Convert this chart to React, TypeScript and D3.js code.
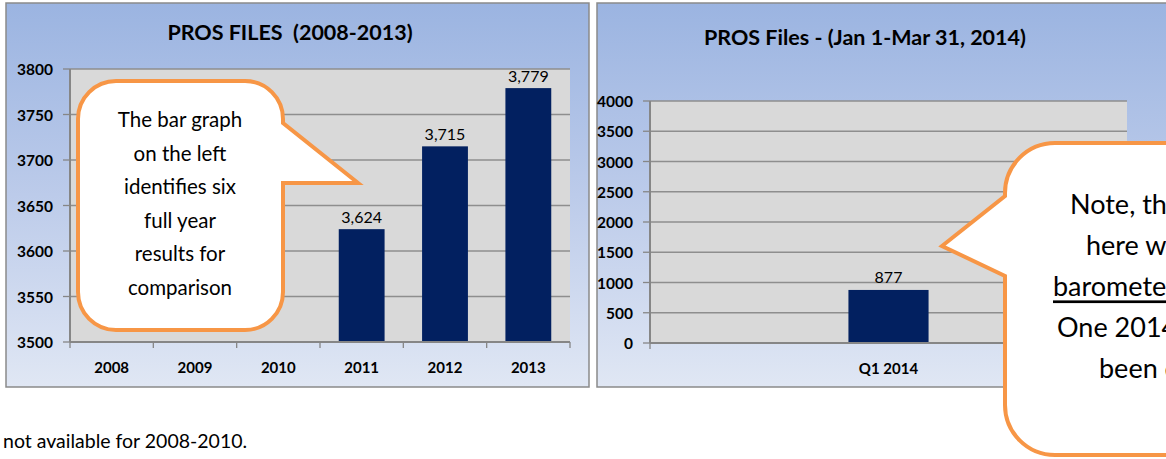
import React from "react";
import * as d3 from "d3";

// ---- data ----
const yearCategories = ["2008", "2009", "2010", "2011", "2012", "2013"];
const yearValues: (number | null)[] = [null, null, null, 3624, 3715, 3779];
const yearTicks = [3500, 3550, 3600, 3650, 3700, 3750, 3800];

const quarterCategories = ["Q1 2014"];
const quarterValues = [877];
const quarterTicks = [0, 500, 1000, 1500, 2000, 2500, 3000, 3500, 4000];

const leftTitle = "PROS FILES  (2008-2013)";
const rightTitle = "PROS Files - (Jan 1-Mar 31, 2014)";
const leftNote = ["The bar graph", "on the left", "identifies six", "full year", "results for", "comparison"];
const rightNote = [
  { pre: "Note, the numbers shown", u: "", post: "" },
  { pre: "here were used as a", u: "", post: "" },
  { pre: "", u: "barometer", post: " only. Quarter" },
  { pre: "One 2014 has not yet", u: "", post: "" },
  { pre: "been completed.", u: "", post: "" },
];
const footnote = "not available for 2008-2010.";

const FONT = "Lato, 'Open Sans', sans-serif";
const BAR = "#022060";
const GRID = "#8e8e8e";
const AXIS = "#868686";
const PLOT = "#d9d9d9";
const ORANGE = "#f79646";

function BarPanel(props: {
  id: string;
  box: { x: number; y: number; w: number; h: number };
  title: string;
  titleX: number;
  titleY: number;
  plot: { x0: number; x1: number; y0: number; y1: number };
  cats: string[];
  vals: (number | null)[];
  ticks: number[];
  domain: [number, number];
  padInner: number;
  catLabelY: number;
}) {
  const { id, box, title, titleX, titleY, plot, cats, vals, ticks, domain, padInner, catLabelY } = props;
  const x = d3.scaleBand<string>().domain(cats).range([plot.x0, plot.x1]).paddingInner(padInner).paddingOuter(padInner / 2);
  const y = d3.scaleLinear().domain(domain).range([plot.y1, plot.y0]);
  const fmt = d3.format(",");
  const step = x.step();
  const boundaries = d3.range(cats.length + 1).map((i) => plot.x0 + i * step);
  return (
    <g>
      <defs>
        <linearGradient id={id} x1="0" y1="0" x2="0" y2="1">
          <stop offset="0" stopColor="#9bb4e1" />
          <stop offset="0.5" stopColor="#bccbea" />
          <stop offset="1" stopColor="#e0e7f4" />
        </linearGradient>
      </defs>
      <rect x={box.x} y={box.y} width={box.w} height={box.h} fill={`url(#${id})`} stroke="#8a8a8a" strokeWidth={1.5} />
      <text x={titleX} y={titleY} textAnchor="middle" dominantBaseline="central" fontFamily={FONT} fontWeight="bold" fontSize={21.5} style={{ whiteSpace: "pre" }}>
        {title}
      </text>
      <rect x={plot.x0} y={plot.y0} width={plot.x1 - plot.x0} height={plot.y1 - plot.y0} fill={PLOT} />
      {ticks.map((t) => (
        <g key={t}>
          {t !== domain[0] && <line x1={plot.x0} x2={plot.x1} y1={y(t)} y2={y(t)} stroke={GRID} strokeWidth={1.3} />}
          <line x1={plot.x0 - 7} x2={plot.x0} y1={y(t)} y2={y(t)} stroke={AXIS} strokeWidth={1.3} />
          <text x={plot.x0 - 17} y={y(t)} textAnchor="end" dominantBaseline="central" fontFamily={FONT} fontWeight="bold" fontSize={15.5}>
            {t}
          </text>
        </g>
      ))}
      {vals.map((v, i) =>
        v == null ? null : (
          <g key={cats[i]}>
            <rect x={x(cats[i])} y={y(v)} width={x.bandwidth()} height={y(domain[0]) - y(v)} fill={BAR} />
            <text x={(x(cats[i]) as number) + x.bandwidth() / 2} y={y(v) - 13} textAnchor="middle" dominantBaseline="central" fontFamily={FONT} fontSize={16}>
              {fmt(v)}
            </text>
          </g>
        )
      )}
      <line x1={plot.x0} x2={plot.x0} y1={plot.y0} y2={plot.y1} stroke={AXIS} strokeWidth={2} />
      <line x1={plot.x0} x2={plot.x1} y1={plot.y1} y2={plot.y1} stroke={AXIS} strokeWidth={2} />
      {boundaries.map((b, i) => (
        <line key={i} x1={b} x2={b} y1={plot.y1} y2={plot.y1 + 6} stroke={AXIS} strokeWidth={1.3} />
      ))}
      {cats.map((c) => (
        <text key={c} x={(x(c) as number) + x.bandwidth() / 2} y={catLabelY} textAnchor="middle" dominantBaseline="central" fontFamily={FONT} fontWeight="bold" fontSize={15}>
          {c}
        </text>
      ))}
    </g>
  );
}

export default function App() {
  const W = 1166;
  const H = 459;
  // left callout geometry
  const L = { l: 78, t: 81, r: 283, b: 330, rad: 38, pTop: 123, pBot: 183, tipX: 358, tipY: 183 };
  const leftPath = `M ${L.l + L.rad},${L.t} H ${L.r - L.rad} A ${L.rad} ${L.rad} 0 0 1 ${L.r},${L.t + L.rad} V ${L.pTop} L ${L.tipX},${L.tipY} H ${L.r} V ${L.b - L.rad} A ${L.rad} ${L.rad} 0 0 1 ${L.r - L.rad},${L.b} H ${L.l + L.rad} A ${L.rad} ${L.rad} 0 0 1 ${L.l},${L.b - L.rad} V ${L.t + L.rad} A ${L.rad} ${L.rad} 0 0 1 ${L.l + L.rad},${L.t} Z`;
  const R = { l: 1005, t: 143, r: 1260, b: 455, rad: 50, pTop: 196, pBot: 276, tipX: 942, tipY: 246 };
  const rightPath = `M ${R.l + R.rad},${R.t} H ${R.r} V ${R.b} H ${R.l + R.rad} A ${R.rad} ${R.rad} 0 0 1 ${R.l},${R.b - R.rad} V ${R.pBot} L ${R.tipX},${R.tipY} L ${R.l},${R.pTop} V ${R.t + R.rad} A ${R.rad} ${R.rad} 0 0 1 ${R.l + R.rad},${R.t} Z`;
  const rightStarts = [1070, 1086, 1053, 1057, 1099];
  return (
    <svg width={W} height={H} style={{ position: "absolute", left: 0, top: 0, background: "#fff" }}>
      <BarPanel
        id="gl"
        box={{ x: 6, y: 3, w: 583, h: 384 }}
        title={leftTitle}
        titleX={290}
        titleY={32}
        plot={{ x0: 70, x1: 570, y0: 69, y1: 342 }}
        cats={yearCategories}
        vals={yearValues}
        ticks={yearTicks}
        domain={[3500, 3800]}
        padInner={0.45}
        catLabelY={367}
      />
      <BarPanel
        id="gr"
        box={{ x: 597, y: 3, w: 600, h: 384 }}
        title={rightTitle}
        titleX={865}
        titleY={37}
        plot={{ x0: 650, x1: 1127, y0: 101, y1: 343 }}
        cats={quarterCategories}
        vals={quarterValues}
        ticks={quarterTicks}
        domain={[0, 4000]}
        padInner={0.832}
        catLabelY={368}
      />
      <path d={leftPath} fill="#fff" stroke={ORANGE} strokeWidth={4} strokeLinejoin="miter" />
      {leftNote.map((s, i) => (
        <text key={i} x={180} y={119 + i * 33.6} textAnchor="middle" dominantBaseline="central" fontFamily={FONT} fontSize={20.5}>
          {s}
        </text>
      ))}
      <path d={rightPath} fill="#fff" stroke={ORANGE} strokeWidth={4} />
      {rightNote.map((ln, i) => (
        <text key={i} x={rightStarts[i]} y={203 + i * 41.2} dominantBaseline="central" fontFamily={FONT} fontSize={27} style={{ whiteSpace: "pre" }}>
          {ln.pre}
          {ln.u && <tspan textDecoration="underline">{ln.u}</tspan>}
          {ln.post}
        </text>
      ))}
      <text x={3} y={440} dominantBaseline="central" fontFamily={FONT} fontSize={19.5}>
        {footnote}
      </text>
    </svg>
  );
}
